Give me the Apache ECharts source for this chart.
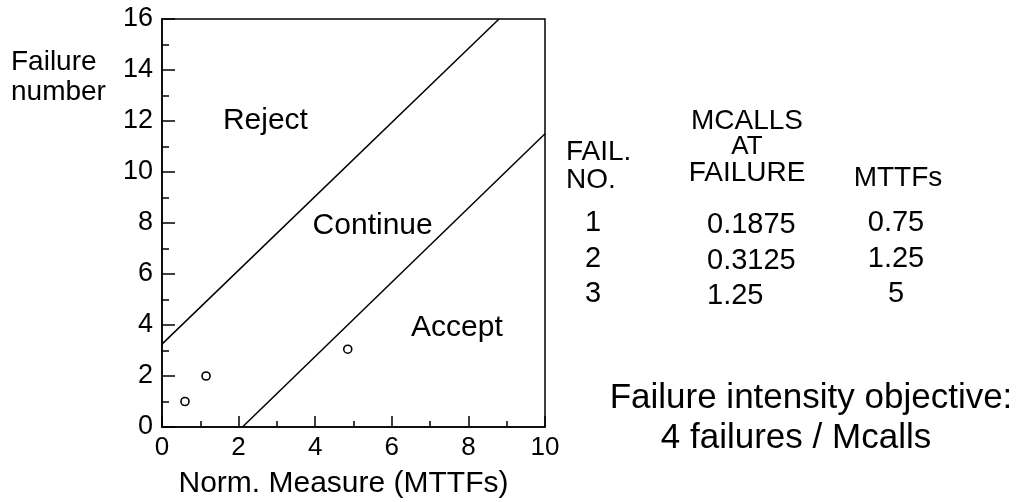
<!DOCTYPE html>
<html>
<head>
<meta charset="utf-8">
<script src="https://cdn.jsdelivr.net/npm/echarts@6/dist/echarts.min.js"></script>
<style>
  html, body { margin: 0; padding: 0; background: #fff; }
  #chart { width: 1018px; height: 502px; }
</style>
</head>
<body>
<div id="chart"></div>
<script>
// boundary lines of the test chart (x = normalized MTTFs, y = failure number)
var rejectLine = [[0, 3.25], [8.8, 16]];
var acceptLine = [[2.1, 0], [10, 11.5]];

// observed failures as plotted
var pointX = [0.6, 1.15, 4.85];
var pointY = [1, 2, 3.05];

// region labels
var regionNames = ['Reject', 'Continue', 'Accept'];
var regionPos = [[2.7, 12], [5.5, 7.9], [7.7, 3.9]];

// table on the right
var failNo = ['1', '2', '3'];
var mcalls = ['0.1875', '0.3125', '1.25'];
var mttfs = ['0.75', '1.25', '5'];

var font = 'Liberation Sans';

var points = [];
for (var i = 0; i < pointX.length; i++) {
    points.push([pointX[i], pointY[i]]);
}
var regions = [];
for (i = 0; i < regionNames.length; i++) {
    regions.push({ value: regionPos[i], name: regionNames[i] });
}

function txt(x, y, text, size, align) {
    return {
        type: 'text',
        x: x,
        y: y,
        style: {
            text: text,
            fill: '#000',
            font: size + 'px "' + font + '"',
            textAlign: align || 'center',
            textVerticalAlign: 'middle'
        }
    };
}

var graphics = [
    txt(11, 62, 'Failure', 28, 'left'),
    txt(11, 92, 'number', 28, 'left'),
    txt(566, 152, 'FAIL.', 28, 'left'),
    txt(566, 180, 'NO.', 28, 'left'),
    txt(747, 121, 'MCALLS', 28),
    txt(747, 147, 'AT', 26),
    txt(747, 173, 'FAILURE', 28),
    txt(898, 178, 'MTTFs', 28),
    txt(811, 398, 'Failure intensity objective:', 35),
    txt(796, 438, '4 failures / Mcalls', 35)
];
var rowY = [223, 259, 294];
for (i = 0; i < failNo.length; i++) {
    graphics.push(txt(593, rowY[i], failNo[i], 29));
    graphics.push(txt(707, rowY[i] + 2, mcalls[i], 29, 'left'));
    graphics.push(txt(896, rowY[i], mttfs[i], 29));
}

var option = {
    animation: false,
    backgroundColor: '#fff',
    textStyle: { fontFamily: font, color: '#000' },
    grid: {
        left: 162,
        right: 473,
        top: 19,
        bottom: 75,
        outerBoundsMode: 'none',
        show: true,
        borderColor: '#000',
        borderWidth: 1.5
    },
    xAxis: {
        type: 'value',
        min: 0,
        max: 10,
        interval: 2,
        name: 'Norm. Measure (MTTFs)',
        nameLocation: 'middle',
        nameGap: 42,
        nameTextStyle: { fontSize: 30, color: '#000', fontFamily: font, padding: [0, 20, 0, 0] },
        axisLine: { show: true, lineStyle: { color: '#000', width: 1.5 } },
        axisTick: { show: true, inside: true, length: 11, lineStyle: { color: '#000', width: 1.5 } },
        minorTick: { show: true, splitNumber: 2, length: 6, lineStyle: { color: '#000', width: 1.5 } },
        axisLabel: { fontSize: 26, color: '#000', margin: 8, fontFamily: font },
        splitLine: { show: false }
    },
    yAxis: {
        type: 'value',
        min: 0,
        max: 16,
        interval: 2,
        axisLine: { show: true, lineStyle: { color: '#000', width: 1.5 } },
        axisTick: { show: true, inside: true, length: 13, lineStyle: { color: '#000', width: 1.5 } },
        minorTick: { show: true, splitNumber: 2, length: 7, lineStyle: { color: '#000', width: 1.5 } },
        axisLabel: { fontSize: 27, color: '#000', margin: 9, fontFamily: font },
        splitLine: { show: false }
    },
    series: [
        {
            name: 'reject',
            type: 'line',
            data: rejectLine,
            symbol: 'none',
            lineStyle: { color: '#000', width: 1.5 }
        },
        {
            name: 'accept',
            type: 'line',
            data: acceptLine,
            symbol: 'none',
            lineStyle: { color: '#000', width: 1.5 }
        },
        {
            name: 'failures',
            type: 'scatter',
            data: points,
            symbol: 'circle',
            symbolSize: 8,
            itemStyle: { color: '#fff', borderColor: '#000', borderWidth: 1.6, opacity: 1 }
        },
        {
            name: 'regions',
            type: 'scatter',
            data: regions,
            symbolSize: 0,
            itemStyle: { opacity: 1 },
            label: {
                show: true,
                position: 'inside',
                formatter: '{b}',
                fontSize: 30,
                color: '#000',
                fontFamily: font
            }
        }
    ],
    graphic: graphics
};

var myChart = echarts.init(document.getElementById('chart'));
myChart.setOption(option);
</script>
</body>
</html>
